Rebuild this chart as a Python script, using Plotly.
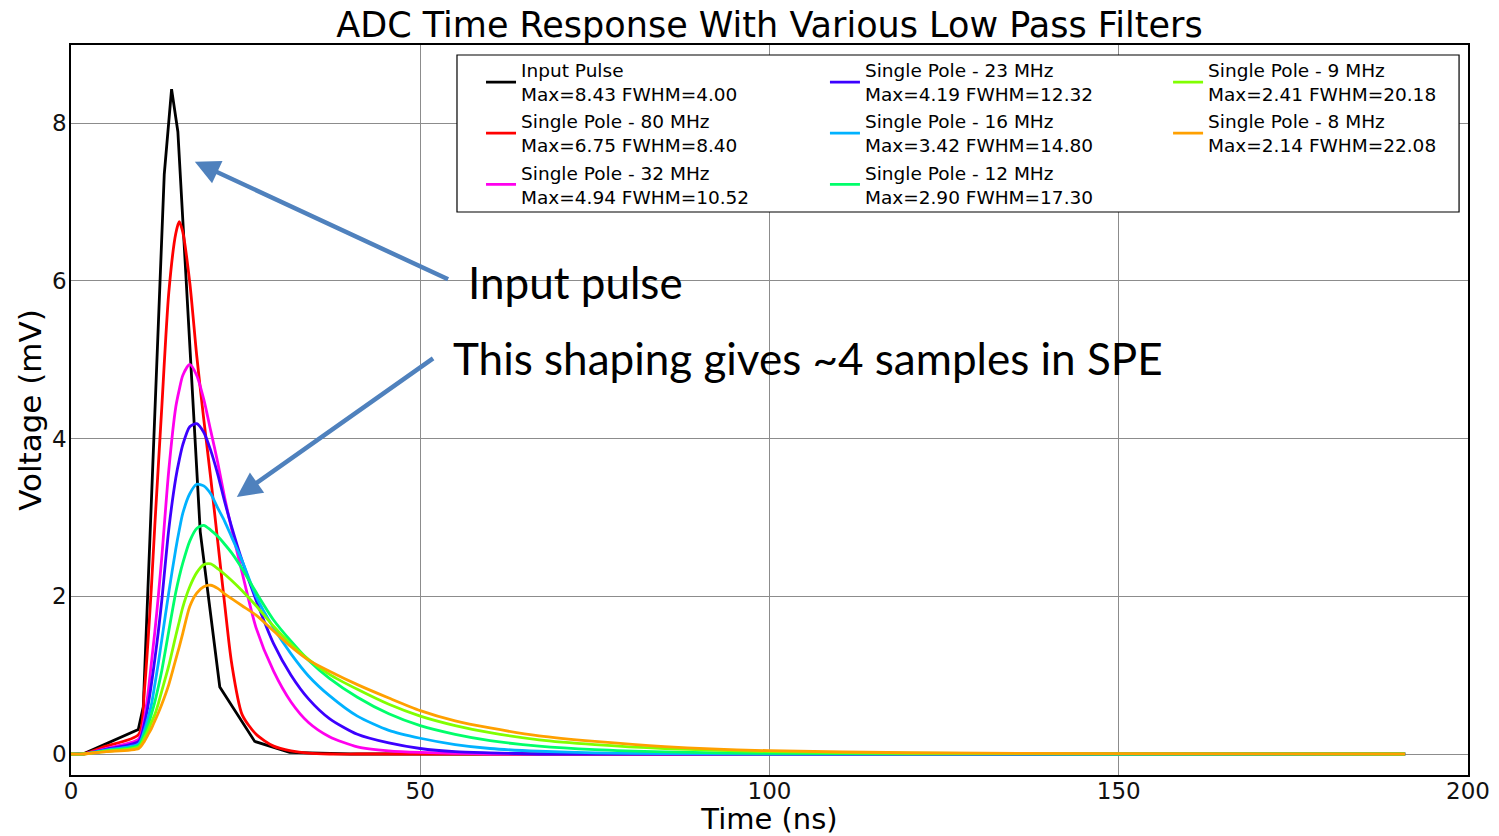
import plotly.graph_objects as go

# ---------------- data ----------------
input_t = [0, 1.7, 9.63, 10.35, 13.35, 14.4, 15.3, 18.5, 21.3, 26.3, 31.3, 40, 191]
input_v = [0, 0, 0.31, 0.6, 7.35, 8.43, 7.89, 2.82, 0.85, 0.16, 0.02, 0, 0]

filt_t = [0, 1.7, 5, 9.7, 10.5, 11, 11.5, 12, 12.5, 13, 14, 15, 15.5, 16, 17, 18, 19, 20, 21, 22, 23,
          24.5, 26.5, 29, 31.5, 34, 37, 41, 45.5, 50, 55, 60, 67, 75, 85, 100, 120, 150, 191]

v_80 = [0, 0, 0.1, 0.25, 0.8, 1.4, 2.1, 2.9, 3.65, 4.4, 5.85, 6.6, 6.75, 6.62, 5.98, 5.05, 4.25, 3.5, 2.7, 1.9, 1.15,
        0.5, 0.25, 0.1, 0.04, 0.01, 0, 0, 0, 0, 0, 0, 0, 0, 0, 0, 0, 0, 0]
v_32 = [0, 0, 0.07, 0.19, 0.45, 0.75, 1.15, 1.55, 2.0, 2.5, 3.6, 4.4, 4.62, 4.8, 4.94, 4.8, 4.5, 4.1, 3.7, 3.25, 2.85,
        2.3, 1.6, 1.05, 0.66, 0.4, 0.22, 0.09, 0.04, 0.02, 0.01, 0, 0, 0, 0, 0, 0, 0, 0]
v_23 = [0, 0, 0.06, 0.16, 0.38, 0.6, 0.88, 1.2, 1.55, 1.95, 2.85, 3.5, 3.73, 3.92, 4.15, 4.19, 4.08, 3.85, 3.55, 3.2, 2.88,
        2.45, 1.95, 1.4, 1.0, 0.7, 0.45, 0.25, 0.14, 0.07, 0.03, 0.015, 0, 0, 0, 0, 0, 0, 0]
v_16 = [0, 0, 0.05, 0.13, 0.3, 0.45, 0.62, 0.88, 1.15, 1.45, 2.05, 2.6, 2.84, 3.05, 3.3, 3.42, 3.4, 3.3, 3.12, 2.95, 2.75,
        2.45, 2.0, 1.6, 1.27, 0.99, 0.74, 0.48, 0.3, 0.2, 0.12, 0.07, 0.035, 0.015, 0.005, 0, 0, 0, 0]
v_12 = [0, 0, 0.04, 0.11, 0.25, 0.36, 0.5, 0.66, 0.85, 1.06, 1.56, 2.05, 2.25, 2.42, 2.7, 2.86, 2.9, 2.84, 2.76, 2.66, 2.55,
        2.35, 2.05, 1.7, 1.43, 1.19, 0.96, 0.72, 0.51, 0.36, 0.25, 0.17, 0.1, 0.055, 0.026, 0.008, 0.002, 0, 0]
v_9 = [0, 0, 0.035, 0.09, 0.2, 0.29, 0.4, 0.5, 0.64, 0.8, 1.12, 1.5, 1.68, 1.86, 2.12, 2.3, 2.4, 2.41, 2.35, 2.28, 2.2,
       2.07, 1.88, 1.62, 1.39, 1.2, 1.01, 0.82, 0.63, 0.48, 0.36, 0.27, 0.18, 0.12, 0.07, 0.03, 0.01, 0.002, 0]
v_8 = [0, 0, 0.03, 0.07, 0.16, 0.24, 0.32, 0.42, 0.52, 0.63, 0.88, 1.2, 1.36, 1.53, 1.87, 2.04, 2.12, 2.14, 2.1, 2.03, 1.97,
       1.88, 1.76, 1.56, 1.36, 1.19, 1.05, 0.88, 0.71, 0.55, 0.42, 0.33, 0.23, 0.16, 0.095, 0.042, 0.016, 0.004, 0]

filter_names = ["Single Pole - 80 MHz", "Single Pole - 32 MHz", "Single Pole - 23 MHz",
                "Single Pole - 16 MHz", "Single Pole - 12 MHz", "Single Pole - 9 MHz",
                "Single Pole - 8 MHz"]
filter_stats = ["Max=6.75 FWHM=8.40", "Max=4.94 FWHM=10.52", "Max=4.19 FWHM=12.32",
                "Max=3.42 FWHM=14.80", "Max=2.90 FWHM=17.30", "Max=2.41 FWHM=20.18",
                "Max=2.14 FWHM=22.08"]
filter_values = [v_80, v_32, v_23, v_16, v_12, v_9, v_8]
filter_colors = ["#ff0000", "#ff00ee", "#3c00ff", "#00b2ff", "#00ff6a", "#80ff00", "#ffa000"]
filter_legends = ["legend", "legend", "legend2", "legend2", "legend2", "legend3", "legend3"]

input_name = "Input Pulse"
input_stats = "Max=8.43 FWHM=4.00"

x_ticks = [0, 50, 100, 150, 200]
y_ticks = [0, 2, 4, 6, 8]

# ---------------- figure ----------------
FONT = "DejaVu Sans"
fig = go.Figure()

fig.add_trace(go.Scatter(x=input_t, y=input_v, mode="lines",
                         name=f"{input_name}<br>{input_stats}",
                         line=dict(color="black", width=2.8), legend="legend"))

for name, stats, vals, col, lg in zip(filter_names, filter_stats, filter_values,
                                      filter_colors, filter_legends):
    fig.add_trace(go.Scatter(x=filt_t, y=vals, mode="lines", name=f"{name}<br>{stats}",
                             line=dict(color=col, width=2.8, shape="spline", smoothing=0.7),
                             legend=lg))

ARROW = "#4F81BD"
annotations = [
    dict(x=17.73, y=7.51, ax=54.2, ay=6.01, xref="x", yref="y", axref="x", ayref="y",
         showarrow=True, arrowhead=2, arrowsize=1.1, arrowwidth=4.5, arrowcolor=ARROW, text=""),
    dict(x=23.74, y=3.26, ax=52.05, ay=5.03, xref="x", yref="y", axref="x", ayref="y",
         showarrow=True, arrowhead=2, arrowsize=1.1, arrowwidth=4.5, arrowcolor=ARROW, text=""),
    dict(x=56.6, y=5.99, xref="x", yref="y", text="Input pulse", showarrow=False,
         xanchor="left", yanchor="middle", font=dict(family="Lato", size=44, color="black")),
    dict(x=54.4, y=5.02, xref="x", yref="y", text="This shaping gives ~4 samples in SPE",
         showarrow=False, xanchor="left", yanchor="middle",
         font=dict(family="Lato", size=44, color="black")),
]

legend_common = dict(orientation="v", yanchor="top", xanchor="left", bgcolor="rgba(0,0,0,0)",
                     borderwidth=0, font=dict(family=FONT, size=18.5, color="black"),
                     tracegroupgap=0, itemwidth=30)

fig.update_layout(
    width=1499, height=836,
    margin=dict(l=71, r=31, t=45, b=61, autoexpand=False),
    paper_bgcolor="white", plot_bgcolor="white",
    font=dict(family=FONT, color="black"),
    title=dict(text="ADC Time Response With Various Low Pass Filters",
               x=0.5, xref="paper", xanchor="center", y=1 - 25 / 836, yref="container",
               yanchor="middle", font=dict(family=FONT, size=35, color="black")),
    xaxis=dict(range=[0, 200], tickvals=x_ticks, ticktext=[str(v) for v in x_ticks],
               showgrid=True, gridcolor="#8c8c8c", gridwidth=1, zeroline=False,
               showline=True, linecolor="black", linewidth=1.5, mirror=True, ticks="",
               automargin=False, ticklabelstandoff=-5,
               tickfont=dict(family=FONT, size=23, color="#111"),
               title=dict(text="Time (ns)", font=dict(family=FONT, size=29, color="black"),
                          standoff=6)),
    yaxis=dict(range=[-0.266, 8.99], tickvals=y_ticks, ticktext=[str(v) for v in y_ticks],
               showgrid=True, gridcolor="#8c8c8c", gridwidth=1, zeroline=False,
               showline=True, linecolor="black", linewidth=1.5, mirror=True, ticks="",
               automargin=False, ticklabelstandoff=-2,
               tickfont=dict(family=FONT, size=23, color="#111"),
               title=dict(text="Voltage (mV)", font=dict(family=FONT, size=31, color="black"),
                          standoff=1)),
    legend=dict(x=0.2935, y=0.991, **legend_common),
    legend2=dict(x=0.5397, y=0.991, **legend_common),
    legend3=dict(x=0.7853, y=0.991, **legend_common),
    annotations=annotations,
    shapes=[dict(type="rect", xref="paper", yref="paper", x0=0.2763, x1=0.9936,
                 y0=0.7712, y1=0.9863, line=dict(color="black", width=1.2),
                 fillcolor="white", layer="above")],
    showlegend=True,
)

fig.write_html("out.html", config={"displayModeBar": False},
               post_script="document.body.style.margin='0';")
